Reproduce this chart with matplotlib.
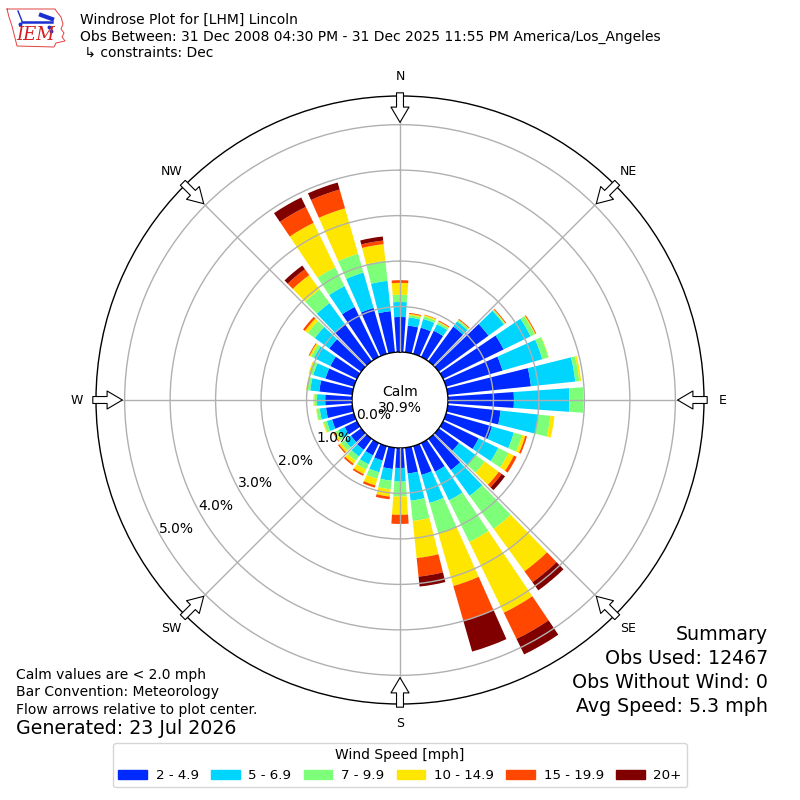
import numpy as np
import matplotlib

matplotlib.use("Agg")
import matplotlib.pyplot as plt
from matplotlib.patches import Patch

# direction bins (deg, meteorological convention, bin centres)
directions = np.arange(0, 360, 10)

# cumulative percent at the top of each speed band
top_2_5 = [0.77, 0.59, 0.60, 0.64, 0.94, 1.35, 1.48, 1.29, 1.84, 1.45, 1.17, 1.05,
           0.87, 0.55, 0.85, 0.70, 0.66, 0.57, 0.44, 0.47, 0.33, 0.30, 0.30, 0.28,
           0.30, 0.50, 0.58, 0.59, 0.73, 0.65, 0.65, 0.87, 1.01, 1.22, 1.05, 0.91]
top_5_7 = [1.10, 0.77, 0.80, 0.80, 1.08, 1.77, 2.14, 2.20, 2.82, 2.67, 2.00, 1.55,
           1.35, 1.00, 1.55, 1.40, 1.30, 1.17, 0.74, 0.73, 0.60, 0.52, 0.48, 0.45,
           0.45, 0.62, 0.72, 0.77, 0.93, 0.93, 1.05, 1.26, 1.58, 1.73, 1.86, 1.58]
top_7_10 = [1.26, 0.82, 0.86, 0.85, 1.12, 1.80, 2.24, 2.34, 2.91, 2.98, 2.27, 1.74,
            1.60, 1.25, 2.45, 2.42, 2.00, 1.62, 1.07, 0.92, 0.75, 0.65, 0.60, 0.55,
            0.52, 0.69, 0.79, 0.83, 1.00, 1.00, 1.12, 1.45, 1.95, 2.19, 2.29, 2.02]
top_10_15 = [1.52, 0.85, 0.89, 0.87, 1.13, 1.81, 2.26, 2.35, 2.95, 2.98, 2.36, 1.81,
             1.73, 1.63, 3.60, 4.15, 3.20, 2.44, 1.47, 1.08, 0.90, 0.76, 0.68, 0.60,
             0.56, 0.71, 0.80, 0.85, 1.02, 1.04, 1.16, 1.53, 2.34, 3.28, 3.33, 2.39]
top_15_20 = [1.58, 0.87, 0.90, 0.89, 1.15, 1.83, 2.28, 2.35, 2.95, 2.98, 2.36, 1.85,
             1.80, 1.71, 3.90, 4.79, 4.00, 2.85, 1.67, 1.14, 0.95, 0.80, 0.72, 0.63,
             0.58, 0.71, 0.80, 0.85, 1.02, 1.04, 1.18, 1.58, 2.50, 3.67, 3.76, 2.47]
top_20p = [1.58, 0.87, 0.90, 0.89, 1.15, 1.83, 2.28, 2.35, 2.95, 2.98, 2.36, 1.85,
           1.80, 1.80, 4.12, 5.17, 4.70, 3.07, 1.67, 1.14, 0.95, 0.80, 0.72, 0.63,
           0.58, 0.71, 0.80, 0.85, 1.02, 1.04, 1.18, 1.58, 2.60, 3.90, 3.92, 2.56]

speed_labels = ["2 - 4.9", "5 - 6.9", "7 - 9.9", "10 - 14.9", "15 - 19.9", "20+"]
calm_pct = 30.9
ring_ticks = [0, 1, 2, 3, 4, 5]
compass = ["N", "NE", "E", "SE", "S", "SW", "W", "NW"]

colors = plt.cm.jet(np.linspace(0, 1, 7)[1:])
tops = np.array([top_2_5, top_5_7, top_7_10, top_10_15, top_15_20, top_20p])
bottoms = np.vstack([np.zeros(len(directions)), tops[:-1]])

fig = plt.figure(figsize=(8, 8), dpi=100)
ax = fig.add_axes([0.12, 0.12, 0.76, 0.76], projection="polar")
ax.set_theta_zero_location("N")
ax.set_theta_direction(-1)

rmax = 5.63
ax.set_ylim(0, rmax)
ax.set_rorigin(-1.055)

theta = np.deg2rad(directions)
width = np.deg2rad(8)
for i in range(len(speed_labels)):
    h = tops[i] - bottoms[i]
    ax.bar(theta, h, width=width, bottom=bottoms[i], color=colors[i],
           edgecolor="none", linewidth=0, zorder=1)

ax.set_axisbelow(False)
ax.set_rgrids(ring_ticks[1:], labels=[""] * 5)
ax.set_thetagrids(np.arange(0, 360, 45), labels=[""] * 8)
ax.grid(True, color="#b0b0b0", lw=1)
ax.spines["polar"].set_linewidth(1.0)
ax.spines["inner"].set_linewidth(1.0)

# ring labels on the lower-left ray
for t in ring_ticks:
    ax.text(np.deg2rad(240), t - 0.39, f"{t:.1f}%", ha="center", va="center",
            fontsize=10)

# compass labels and inward flow arrows
for k, lab in enumerate(compass):
    a = np.deg2rad(k * 45)
    ax.text(a, 6.05, lab, ha="center", va="center", fontsize=9, clip_on=False)
    ax.annotate("", xy=(a, 5.05), xytext=(a, 5.70), annotation_clip=False,
                arrowprops=dict(arrowstyle="simple,head_length=1.1,head_width=1.3,tail_width=0.5",
                                fc="white", ec="black", lw=0.8, shrinkA=0, shrinkB=0,
                                mutation_scale=10))

ax.text(0, -1.055, f"Calm\n{calm_pct:.1f}%", ha="center", va="center", fontsize=10)

# header
fig.text(0.1, 1 - 20 / 800, "Windrose Plot for [LHM] Lincoln", fontsize=10, va="center")
fig.text(0.1, 1 - 37 / 800,
         "Obs Between: 31 Dec 2008 04:30 PM - 31 Dec 2025 11:55 PM America/Los_Angeles",
         fontsize=10, va="center")
fig.text(0.1, 1 - 53 / 800, " \u21b3 constraints: Dec", fontsize=10, va="center")

# logo (rough IEM badge)
lax = fig.add_axes([0, 1 - 52 / 800, 70 / 800, 52 / 800])
lax.set_xlim(0, 70)
lax.set_ylim(52, 0)
lax.axis("off")
iowa_x = [7, 55, 57, 61, 63, 61, 64, 62, 65, 56, 54, 17, 15, 12, 9, 7]
iowa_y = [9, 9, 12, 17, 24, 29, 33, 37, 41, 43, 47, 46, 38, 26, 17, 9]
lax.plot(iowa_x, iowa_y, color="#e04040", lw=0.7)
lax.plot([22, 52], [22, 22], color="#1a2fd0", lw=1.8)
lax.plot([41, 52], [15, 19], color="#1a2fd0", lw=3)
lax.plot([18, 22], [11, 21], color="#1a2fd0", lw=1)
lax.plot([20, 49, 51], [24, 27, 31], "o", color="#1a2fd0", ms=1.8)
lax.text(16, 44, "IEM", color="#d42020", fontsize=13, style="italic",
         family="DejaVu Serif", va="bottom")

# footer notes
fig.text(16 / 800, 1 - 675 / 800, "Calm values are < 2.0 mph", fontsize=10, va="center")
fig.text(16 / 800, 1 - 692 / 800, "Bar Convention: Meteorology", fontsize=10, va="center")
fig.text(16 / 800, 1 - 710 / 800, "Flow arrows relative to plot center.", fontsize=10,
         va="center")
fig.text(16 / 800, 1 - 729 / 800, "Generated: 23 Jul 2026", fontsize=13.7, va="center")

summary = ["Summary", "Obs Used: 12467", "Obs Without Wind: 0", "Avg Speed: 5.3 mph"]
for j, line in enumerate(summary):
    fig.text(768 / 800, 1 - (635 + 24 * j) / 800, line, fontsize=13.7, ha="right",
             va="center")

handles = [Patch(color=c) for c in colors]
fig.legend(handles, speed_labels, ncol=6, loc="lower center",
           bbox_to_anchor=(0.5, 6 / 800), title="Wind Speed [mph]",
           fontsize=9.6, title_fontsize=10, handlelength=2.15, handleheight=0.62,
           handletextpad=0.65, columnspacing=0.92, frameon=True)

fig.savefig("out.png", dpi=100)
